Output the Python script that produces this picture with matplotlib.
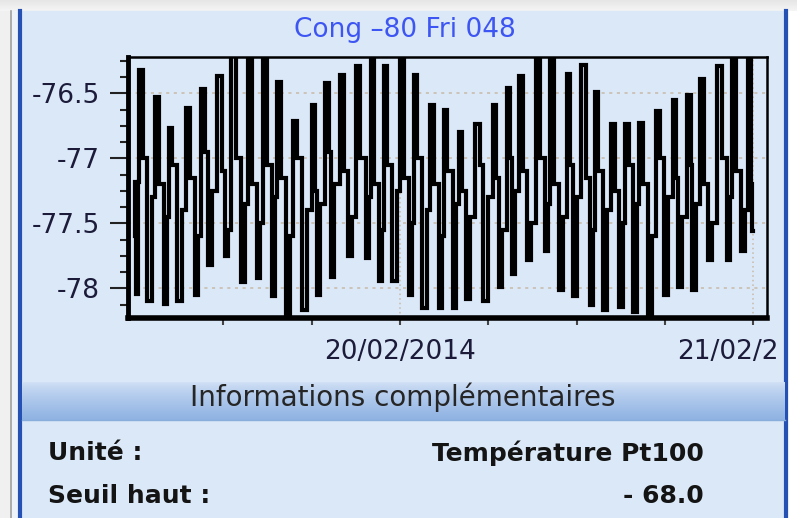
import numpy as np
import pandas as pd
import matplotlib
matplotlib.use("Agg")
import matplotlib.pyplot as plt
import matplotlib.dates as mdates
import matplotlib.transforms as mtransforms
from matplotlib.ticker import FixedLocator, FuncFormatter

plt.rcParams['axes.unicode_minus'] = False
plt.rcParams['font.family'] = ['DejaVu Sans']

# readings: hours after 20/02/2014 00:00 and temperature at each peak / trough
hours = [-18.02, -17.90, -17.67, -17.00, -16.54, -15.86, -15.64, -14.96, -14.41, -13.82,
         -13.39, -12.92, -12.24, -11.78, -11.35, -10.65, -10.20, -9.59, -9.18, -8.55,
         -8.27, -7.59, -7.19, -6.46, -5.83, -5.59, -4.92, -4.64, -3.92, -3.40,
         -2.88, -2.16, -1.92, -1.29, -1.02, -0.34, 0.12, 0.75, 1.02, 1.70,
         2.16, 2.79, 3.06, 3.74, 4.08, 4.62, 5.30, 5.78, 6.46, 6.80,
         7.41, 7.68, 8.27, 8.72, 9.40, 9.97, 10.31, 10.99, 11.44, 11.90,
         12.46, 13.07, 13.30, 13.98, 14.43, 15.07, 15.41, 16.02, 16.32, 17.00,
         17.56, 18.08, 18.69, 18.99, 19.71, 19.94, 20.58, 21.03, 21.71, 22.39,
         22.66, 23.34, 23.79, 24.02]
temps = [-77.18, -78.04, -76.32, -78.10, -76.53, -78.12, -76.77, -78.10, -76.61, -78.05,
         -76.47, -77.82, -76.37, -77.75, -76.10, -77.95, -76.24, -77.92, -76.10, -78.06,
         -76.41, -78.40, -76.71, -78.17, -76.59, -78.05, -76.42, -77.91, -76.36, -77.75,
         -76.29, -77.77, -76.10, -77.94, -76.29, -77.94, -76.10, -78.05, -76.36, -78.15,
         -76.59, -78.15, -76.63, -78.15, -76.80, -78.08, -76.74, -78.10, -76.59, -77.99,
         -76.46, -77.89, -76.37, -77.78, -76.10, -77.71, -76.10, -78.01, -76.35, -78.06,
         -76.28, -78.13, -76.49, -78.17, -76.74, -78.14, -76.74, -78.18, -76.73, -78.40,
         -76.64, -78.05, -76.55, -77.99, -76.51, -78.01, -76.39, -77.78, -76.29, -77.78,
         -76.10, -77.71, -76.24, -77.56]
# intermediate level seen between each pair of neighbouring readings
mid_temps = [-77.60, -77.18, -77.00, -77.30, -77.20, -77.45, -77.05, -77.40, -77.15, -77.60,
             -76.95, -77.25, -77.10, -77.55, -77.00, -77.35, -77.20, -77.50, -77.05, -77.30,
             -77.15, -77.60, -77.00, -77.40, -77.25, -77.35, -76.95, -77.20, -77.10, -77.45,
             -77.00, -77.30, -77.20, -77.55, -77.05, -77.25, -77.15, -77.50, -77.00, -77.40,
             -77.20, -77.60, -77.10, -77.35, -77.25, -77.45, -77.05, -77.30, -77.15, -77.55,
             -77.00, -77.25, -77.10, -77.50, -77.00, -77.35, -77.20, -77.45, -77.05, -77.30,
             -77.15, -77.55, -77.10, -77.40, -77.25, -77.50, -77.05, -77.35, -77.20, -77.60,
             -77.00, -77.30, -77.15, -77.45, -77.05, -77.35, -77.20, -77.50, -77.00, -77.30,
             -77.10, -77.40, -77.20]

title = "Cong \u201380 Fri 048"
y_ticks = [-76.5, -77, -77.5, -78]
info_header = "Informations compl\u00e9mentaires"
info_rows = [("Unit\u00e9 :", "Temp\u00e9rature Pt100"), ("Seuil haut :", "- 68.0")]

# merge readings and intermediate levels into one series
h = np.array(hours)
h_mid = (h[:-1] + h[1:]) / 2
all_h = np.empty(len(h) + len(h_mid))
all_t = np.empty_like(all_h)
all_h[0::2], all_h[1::2] = h, h_mid
all_t[0::2], all_t[1::2] = temps, mid_temps

t0 = pd.Timestamp("2014-02-20 00:00")
times = t0 + pd.to_timedelta(all_h, unit="h")

W, H = 797, 518
fig = plt.figure(figsize=(W / 100, H / 100), dpi=100)
fig.patch.set_facecolor("white")

# window background / decoration
bg = fig.add_axes([0, 0, 1, 1])
bg.set_xlim(0, W)
bg.set_ylim(H, 0)
bg.axis("off")
bg.add_patch(plt.Rectangle((0, 0), 12, H, color="#f0f0f0", zorder=0))
shadow = np.linspace(0.90, 0.96, 12).reshape(-1, 1)
bg.imshow(np.repeat(shadow, 2, axis=1), cmap="gray", vmin=0, vmax=1,
          extent=[0, W, 11, 0], aspect="auto", zorder=0)
bg.add_patch(plt.Rectangle((12, 11), 775, H - 11, color="#dae8f8", zorder=1))
bg.add_patch(plt.Rectangle((12, 11), 7, H - 11, color="#eef3f9", zorder=1))
bg.plot([11.5, 11.5], [11, H], color="#a0a0a0", lw=1.2, zorder=2)
bg.plot([20, 20], [11, H], color="#2550b4", lw=3, zorder=2)
bg.plot([786, 786], [11, H], color="#2550b4", lw=3, zorder=2)

# header band of the info section
c_top = np.array([0.82, 0.88, 0.96])
c_bot = np.array([0.56, 0.70, 0.89])
g = np.linspace(0, 1, 40)[:, None] ** 0.8
band = (c_top * (1 - g) + c_bot * g)[:, None, :].repeat(2, axis=1)
bg.imshow(band, extent=[22, 785, 420, 382], aspect="auto", zorder=2)
bg.plot([22, 785], [420, 420], color="#8aaedc", lw=1, zorder=3)
bg.text(403, 397, info_header, ha="center", va="center", fontsize=20,
        color="#262626", zorder=4)
for i, (lab, val) in enumerate(info_rows):
    yy = 453 + i * 43
    bg.text(48, yy, lab, ha="left", va="center", fontsize=18,
            fontweight="bold", color="#141414", zorder=4)
    bg.text(704, yy, val, ha="right", va="center", fontsize=18,
            fontweight="bold", color="#141414", zorder=4)

bg.text(405, 30, title, ha="center", va="center", fontsize=19,
        color="#3d55f2", zorder=4)

# chart
ax = fig.add_axes([128 / W, 1 - 318 / H, (767 - 128) / W, (318 - 57) / H])
ax.set_facecolor("none")
ax.plot(times, all_t, color="black", lw=3.0, drawstyle="steps-mid",
        solid_joinstyle="miter", zorder=3)

x_left = t0 + pd.Timedelta(hours=-18.49)
x_right = t0 + pd.Timedelta(hours=24.95)
ax.set_xlim(x_left, x_right)
ax.set_ylim(-78.228, -76.221)

ax.yaxis.set_major_locator(FixedLocator(y_ticks))
ax.yaxis.set_minor_locator(FixedLocator(np.arange(-78.125, -76.2, 0.125)))
ax.yaxis.set_major_formatter(FuncFormatter(lambda v, p: f"{v:g}"))

ax.xaxis.set_major_locator(mdates.DayLocator())
ax.xaxis.set_major_formatter(mdates.DateFormatter("%d/%m/%Y"))
ax.xaxis.set_minor_locator(FixedLocator(mdates.date2num(
    [t0 + pd.Timedelta(hours=hh) for hh in (-12, -6, 6, 12, 18)])))

ax.grid(axis="y", which="major", color="#c9b9a6", ls=(0, (2, 3)), lw=1.1)
ax.grid(axis="x", which="major", color="#c9b9a6", ls=(0, (1, 2)), lw=1.1)

ax.tick_params(axis="y", which="major", length=13, width=1.5, pad=7,
               labelsize=19, labelcolor="#1c1c3a", color="#222222")
ax.tick_params(axis="y", which="minor", length=6, width=1.5, color="#222222")
ax.tick_params(axis="x", which="both", length=5, width=1.5, pad=10,
               labelsize=19, labelcolor="#1c1c3a", color="#444444")

for side, lw in (("left", 3.5), ("bottom", 4), ("top", 1.8), ("right", 1.8)):
    ax.spines[side].set_linewidth(lw)
    ax.spines[side].set_color("black")

# last date label is cut off by the panel edge, as in the screenshot
clip_box = mtransforms.TransformedBbox(
    mtransforms.Bbox.from_extents(0, 0, 776 / W, 1), fig.transFigure)
for lab in ax.get_xticklabels():
    lab.set_clip_on(True)
    lab.set_clip_box(clip_box)

fig.savefig("out.png", dpi=100, facecolor=fig.get_facecolor())
